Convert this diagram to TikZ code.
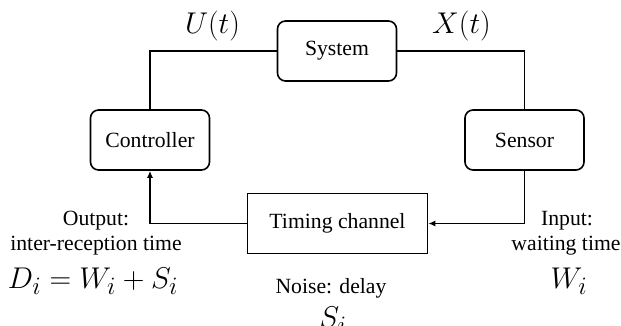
\documentclass[tikz,border=0pt]{standalone}
\usepackage{fontspec}
\setmainfont{Liberation Serif}
\usetikzlibrary{arrows.meta}
\begin{document}
\begin{tikzpicture}[x=1pt,y=-1pt,
  txt/.style={font=\fontsize{21.7}{25}\selectfont},
  blk/.style={txt, draw, line width=1.6pt, rounded corners=8pt, minimum width=119pt, minimum height=60pt, inner sep=0pt},
  chan/.style={txt, draw, line width=1.6pt, minimum width=180pt, minimum height=60pt, inner sep=0pt},
  wire/.style={line width=1.6pt},
  arr/.style={wire, -{Latex[length=7pt,width=6pt]}},
  lbl/.style={txt, inner sep=0pt, anchor=base},
  mth/.style={inner sep=0pt, anchor=base, scale=1.206, font=\fontsize{24.88}{30}\selectfont}]
\useasboundingbox (0,0) rectangle (621,325);

\node[blk] (sys) at (337,51) {System};
\node[blk] (ctl) at (150,140) {Controller};
\node[blk] (sen) at (524.5,140) {Sensor};
\node[chan] (tc) at (337.5,223.5) {Timing channel};

\coordinate (c1) at (150,51);
\coordinate (c2) at (524.5,51);
\coordinate (c3) at (524.5,223.5);
\coordinate (c4) at (150,223.5);

\draw[wire] (sys.west) -- (c1) -- (ctl.north);
\draw[wire] (sys.east) -- (c2) -- (sen.north);
\draw[arr] (sen.south) -- (c3) -- (tc.east);
\draw[arr] (tc.west) -- (c4) -- (ctl.south);

\node[mth] (u) at (212.5,33) {$U(t)$};
\node[mth] (x) at (461.5,33) {$X(t)$};

\node[lbl] (o1) at (96,225) {Output:};
\node[lbl] (o2) at (96,250) {inter-reception time};
\node[lbl] (i1) at (567,225) {Input:};
\node[lbl] (i2) at (566,250) {waiting time};

\node[mth] (d) at (93,288) {$D_i = W_i + S_i$};
\node[mth] (w) at (569,288) {$W_i$};
\node[lbl] (n) at (331,293) {Noise: delay};
\node[mth] (s) at (333,327) {$S_i$};
\end{tikzpicture}
\end{document}
